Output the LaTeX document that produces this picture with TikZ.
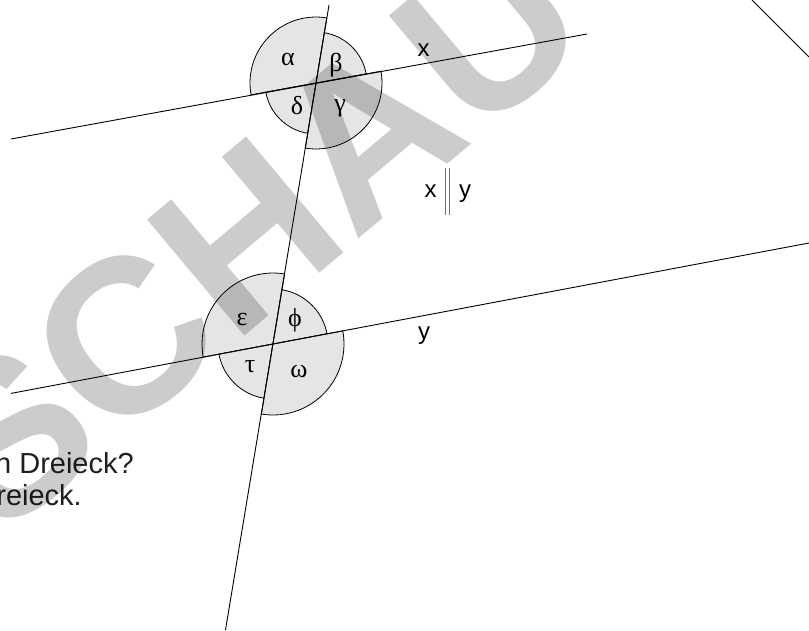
\documentclass[tikz,border=0pt]{standalone}
\usepackage{fontspec}
\setmainfont{Liberation Sans}
\newfontfamily\greekfont{Liberation Serif}
\begin{document}
\begin{tikzpicture}[x=1pt,y=1pt,
  ln/.style={line width=0.9pt, black},
  sect/.style={fill=black!10, draw=black, line width=0.8pt},
  glab/.style={font=\greekfont\fontsize{26}{26}\selectfont, inner sep=0pt},
  slab/.style={font=\fontsize{24}{24}\selectfont, inner sep=0pt},
  btxt/.style={font=\fontsize{29}{29}\selectfont, inner sep=0pt, text=black!88, anchor=base east},
  bar/.style={line width=0.6pt, black!55}
  ]
\useasboundingbox (0,0) rectangle (809,-630);
\clip (0,0) rectangle (809,-630);
\coordinate (P) at (316,-83);
\coordinate (Q) at (273,-344);
% upper sectors
\draw[sect] (P) -- ++(80.6:66) arc[start angle=80.6, end angle=190.3, radius=66] -- cycle;
\draw[sect] (P) -- ++(10.3:51) arc[start angle=10.3, end angle=80.6, radius=51] -- cycle;
\draw[sect] (P) -- ++(190.3:51) arc[start angle=190.3, end angle=260.6, radius=51] -- cycle;
\draw[sect] (P) -- ++(260.6:66) arc[start angle=260.6, end angle=370.3, radius=66] -- cycle;
% lower sectors
\draw[sect] (Q) -- ++(80.6:71) arc[start angle=80.6, end angle=190.65, radius=71] -- cycle;
\draw[sect] (Q) -- ++(10.65:55) arc[start angle=10.65, end angle=80.6, radius=55] -- cycle;
\draw[sect] (Q) -- ++(190.65:55) arc[start angle=190.65, end angle=260.6, radius=55] -- cycle;
\draw[sect] (Q) -- ++(260.6:71) arc[start angle=260.6, end angle=370.65, radius=71] -- cycle;
% lines
\coordinate (xl) at (11,-139);
\coordinate (xr) at (587,-34);
\coordinate (yl) at (11,-393.4);
\coordinate (yr) at (809,-243);
\coordinate (tt) at (329,-5);
\coordinate (tb) at (225.5,-630);
\coordinate (ra) at (752,0);
\coordinate (rb) at (809,-57);
\draw[ln] (xl) -- (xr);
\draw[ln] (yl) -- (yr);
\draw[ln] (tt) -- (tb);
\draw[ln] (ra) -- (rb);
% greek labels
\node[glab] (alpha) at (288,-59) {α};
\node[glab] (beta) at (336,-65) {β};
\node[glab] (delta) at (297,-106) {δ};
\node[glab] (gamma) at (340,-108) {γ};
\node[glab] (eps) at (242,-319) {ε};
\node[glab] (phi) at (295,-320) {ϕ};
\node[glab] (tau) at (250,-367) {τ};
\node[glab] (omega) at (299,-372) {ω};
% line labels
\node[slab] (lx) at (423.7,-49.7) {x};
\node[slab] (ly) at (424,-336) {y};
\node[slab] (px) at (430.5,-191.5) {x};
\node[slab] (py) at (465,-194) {y};
\coordinate (b1t) at (445.6,-168);
\coordinate (b1b) at (445.6,-215);
\coordinate (b2t) at (448.8,-168);
\coordinate (b2b) at (448.8,-215);
\draw[bar] (b1t) -- (b1b);
\draw[bar] (b2t) -- (b2b);
% bottom text
\node[btxt] (t1) at (134,-473) {n Dreieck?};
\node[btxt] (t2) at (82,-505) {reieck.};
% watermark
\node[rotate=40, font=\fontsize{220}{220}\selectfont\bfseries, text=black, text opacity=0.2, inner sep=0pt] (wm) at (250,-232) {SCHAU};
\end{tikzpicture}
\end{document}
